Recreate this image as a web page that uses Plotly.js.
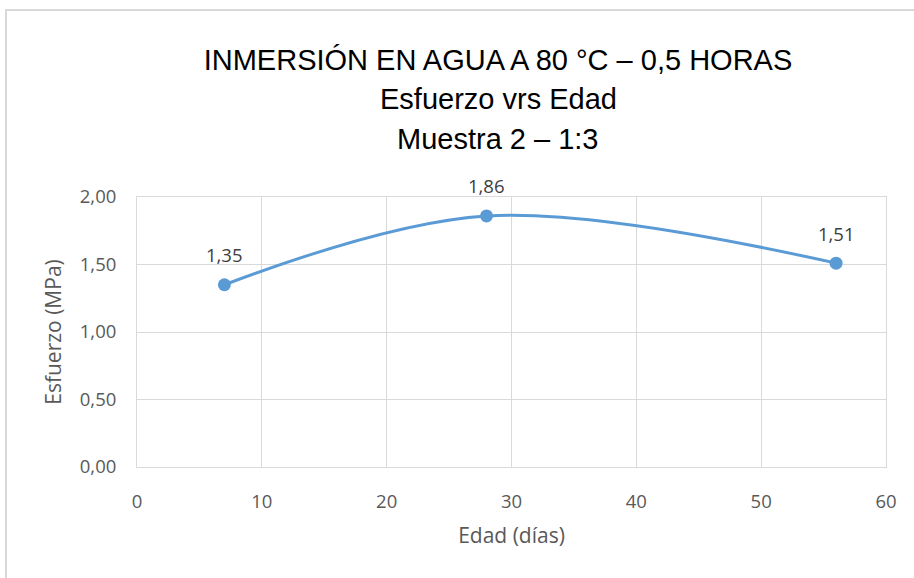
<!DOCTYPE html>
<html><head><meta charset="utf-8">
<script src="https://cdn.plot.ly/plotly-3.0.1.min.js"></script>
<style>
html,body{margin:0;padding:0;background:#fff;overflow:hidden;}
#wrap{position:relative;width:914px;height:578px;}
#frame{position:absolute;left:5px;top:9px;width:930px;height:600px;border:2px solid #d9d9d9;box-sizing:border-box;pointer-events:none;}
</style>
</head><body>
<div id="wrap"><div id="chart" style="width:914px;height:578px;"></div><div id="frame"></div></div>
<script>
const edad = [7, 28, 56];
const esfuerzo = [1.35, 1.86, 1.51];
const titleLines = ["INMERSIÓN EN AGUA A 80 °C – 0,5 HORAS", "Esfuerzo vrs Edad", "Muestra 2 – 1:3"];
const xTitle = "Edad (días)";
const yTitle = "Esfuerzo (MPa)";

const labels = esfuerzo.map(v => v.toFixed(2).replace('.', ','));
const tickFont = {family: "'Open Sans', sans-serif", size: 18.5, color: '#595959'};
const titleFont = {family: "'Liberation Sans', Arial, sans-serif", size: 29, color: '#000'};
const titleX = (498 - 137) / 749;

const trace = {
  x: edad, y: esfuerzo, type: 'scatter', mode: 'lines+markers',
  line: {color: '#5B9BD5', width: 3, shape: 'spline', smoothing: 1},
  marker: {color: '#5B9BD5', size: 13},
  hoverinfo: 'x+y'
};

const annotations = edad.map((x, i) => ({
  x: x, y: esfuerzo[i], xref: 'x', yref: 'y', text: labels[i], showarrow: false,
  yshift: 30, font: {family: "'Open Sans', sans-serif", size: 18.5, color: '#404040'}
}));
annotations.push({xref: 'paper', yref: 'paper', x: titleX, y: 1 + (197 - 99) / 270, text: titleLines[1], showarrow: false,
  yanchor: 'middle', font: titleFont});
annotations.push({xref: 'paper', yref: 'paper', x: titleX, y: 1 + (197 - 139) / 270, text: titleLines[2], showarrow: false,
  yanchor: 'middle', font: titleFont});

const layout = {
  width: 914, height: 578,
  margin: {l: 137, r: 28, t: 197, b: 111},
  paper_bgcolor: '#fff', plot_bgcolor: '#fff',
  separators: ',.',
  showlegend: false,
  title: {text: titleLines[0], xref: 'paper', x: titleX, xanchor: 'center', yref: 'container', y: 1 - 60 / 578, yanchor: 'middle',
    font: titleFont},
  xaxis: {
    range: [0, 60], dtick: 10, tick0: 0, showgrid: true, gridcolor: '#d9d9d9', gridwidth: 1,
    showline: true, linecolor: '#d9d9d9', linewidth: 1, mirror: true, zeroline: false,
    ticks: '', ticklabelstandoff: 18, tickfont: tickFont,
    title: {text: xTitle, standoff: 16, font: {family: "'Open Sans', sans-serif", size: 21, color: '#595959'}}
  },
  yaxis: {
    range: [0, 2], dtick: 0.5, tick0: 0, tickformat: '.2f', showgrid: true, gridcolor: '#d9d9d9', gridwidth: 1,
    showline: true, linecolor: '#d9d9d9', linewidth: 1, mirror: true, zeroline: false,
    ticks: '', ticklabelstandoff: 16, tickfont: tickFont,
    title: {text: yTitle, standoff: 12, font: {family: "'Open Sans', sans-serif", size: 21, color: '#595959'}}
  },
  annotations: annotations
};

Plotly.newPlot('chart', [trace], layout, {displayModeBar: false, staticPlot: true});
</script>
</body></html>
